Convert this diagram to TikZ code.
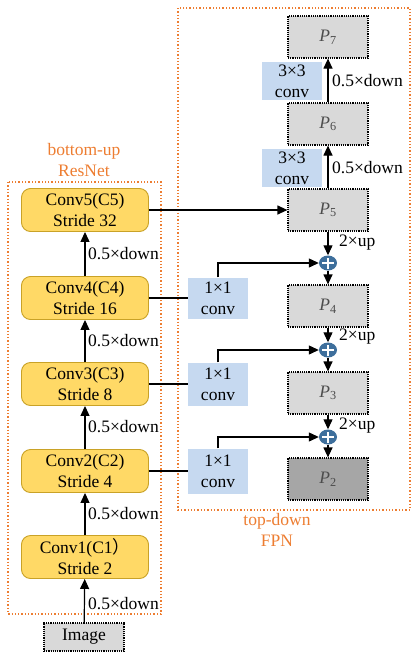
\documentclass[tikz,border=0pt]{standalone}
\usepackage{fontspec}
\setmainfont{Liberation Serif}
\newfontfamily\cjkfont{Noto Sans CJK SC}
\usetikzlibrary{arrows.meta,shapes.geometric}
\definecolor{convfill}{HTML}{FFD966}
\definecolor{convborder}{HTML}{C9A227}
\definecolor{pgray}{HTML}{D9D9D9}
\definecolor{pdark}{HTML}{A6A6A6}
\definecolor{cblue}{HTML}{C6D9F0}
\definecolor{orng}{HTML}{ED7D31}
\definecolor{plusblue}{HTML}{3E6F9C}
\newcommand{\Pl}[1]{\textit{P}\textsubscript{#1}}
\begin{document}
\begin{tikzpicture}[x=1pt,y=-1pt,
  every node/.style={font=\fontsize{17.5}{21}\selectfont},
  convbox/.style={draw=convborder, fill=convfill, rounded corners=9pt, minimum width=127pt, minimum height=43pt, align=center, inner sep=0pt, line width=0.9pt},
  pbox/.style={draw, densely dotted, fill=pgray, minimum width=80pt, minimum height=42pt, line width=1.2pt, text=black!70, inner sep=0pt},
  cbox/.style={fill=cblue, minimum width=60pt, minimum height=41pt, align=center, inner sep=0pt},
  lab/.style={anchor=west, inner sep=0pt},
  olab/.style={text=orng, align=center, inner sep=0pt},
  obox/.style={draw=orng, dotted, line width=1.3pt},
  arr/.style={-{Triangle[width=9pt,length=10pt]}, line width=1.2pt},
  ln/.style={line width=1.2pt},
  plus/.style={ellipse, fill=plusblue, minimum width=18pt, minimum height=15pt, inner sep=0pt,
    path picture={\draw[white,line width=1.5pt] ([xshift=-6pt]path picture bounding box.center) -- ([xshift=6pt]path picture bounding box.center) ([yshift=-5.5pt]path picture bounding box.center) -- ([yshift=5.5pt]path picture bounding box.center);}}
]
\useasboundingbox (0,0) rectangle (414,653);
% dotted frames
\draw[obox] (8,182) rectangle (161,614);
\draw[obox] (178,8) rectangle (410,510);
\node[olab] (bu) at (84,160) {bottom-up\\ResNet};
\node[olab] (td) at (277,530) {top-down\\FPN};
% backbone
\node[convbox] (c5) at (85,210) {Conv5(C5)\\Stride 32};
\node[convbox] (c4) at (85,298) {Conv4(C4)\\Stride 16};
\node[convbox] (c3) at (85,384) {Conv3(C3)\\Stride 8};
\node[convbox] (c2) at (85,471) {Conv2(C2)\\Stride 4};
\node[convbox] (c1) at (85,557) {Conv1(C1{\cjkfont ）}\\Stride 2};
\node[draw, densely dotted, fill=pgray, minimum width=80pt, minimum height=28pt, line width=1.2pt, inner sep=0pt] (img) at (84,637) {Image};
\draw[arr] (img) -- (c1);
\draw[arr] (c1) -- (c2);
\draw[arr] (c2) -- (c3);
\draw[arr] (c3) -- (c4);
\draw[arr] (c4) -- (c5);
\node[lab] (l1) at (88,604) {0.5×down};
\node[lab] (l2) at (88,514) {0.5×down};
\node[lab] (l3) at (88,427) {0.5×down};
\node[lab] (l4) at (88,341) {0.5×down};
\node[lab] (l5) at (88,254) {0.5×down};
% FPN
\node[pbox] (p7) at (328,37) {\Pl{7}};
\node[pbox] (p6) at (328,124) {\Pl{6}};
\node[pbox] (p5) at (328,210) {\Pl{5}};
\node[pbox] (p4) at (328,306) {\Pl{4}};
\node[pbox] (p3) at (328,393) {\Pl{3}};
\node[pbox, fill=pdark] (p2) at (328,479) {\Pl{2}};
\node[cbox, minimum height=38pt] (k7) at (292,81) {3×3\\conv};
\node[cbox, minimum height=38pt] (k6) at (292,168) {3×3\\conv};
\node[cbox] (k4) at (218,298) {1×1\\conv};
\node[cbox, minimum height=43pt] (k3) at (218,384) {1×1\\conv};
\node[cbox, minimum height=45pt] (k2) at (218,471) {1×1\\conv};
\node[plus] (s1) at (328,263) {};
\node[plus] (s2) at (328,350) {};
\node[plus] (s3) at (328,437) {};
\draw[arr] (p6) -- (p7);
\draw[arr] (p5) -- (p6);
\node[lab] (d7) at (332,81) {0.5×down};
\node[lab] (d6) at (332,168) {0.5×down};
\draw[arr] (c5) -- (p5);
\draw[ln] (c4) -- (k4);
\draw[ln] (c3) -- (k3);
\draw[ln] (c2) -- (k2);
\draw[arr] (k4.north) |- (s1);
\draw[arr] (k3.north) |- (s2);
\draw[arr] (k2.north) |- (s3);
\draw[arr] (p5) -- (s1);
\draw[arr] (s1) -- (p4);
\draw[arr] (p4) -- (s2);
\draw[arr] (s2) -- (p3);
\draw[arr] (p3) -- (s3);
\draw[arr] (s3) -- (p2);
\node[lab] (u1) at (339,243) {2×up};
\node[lab] (u2) at (339,337) {2×up};
\node[lab] (u3) at (339,426) {2×up};
\end{tikzpicture}
\end{document}
